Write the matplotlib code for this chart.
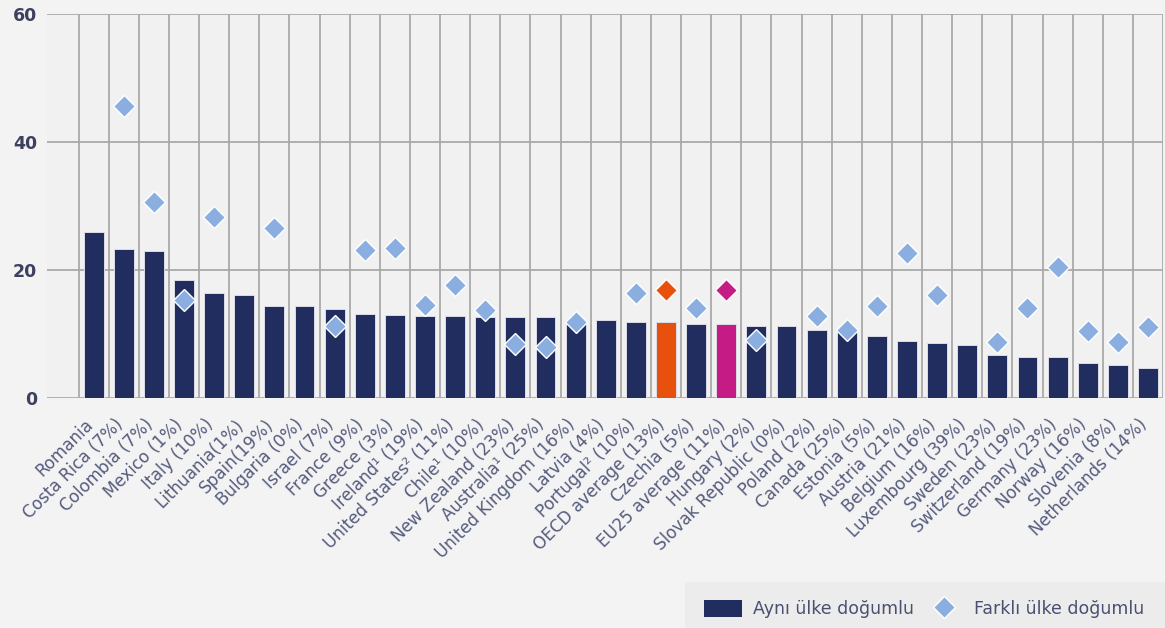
import matplotlib
matplotlib.use("Agg")
import matplotlib.pyplot as plt
import matplotlib.transforms as mtransforms
from matplotlib.patches import Patch, Rectangle
from matplotlib.lines import Line2D

categories = ["Romania", "Costa Rica (7%)", "Colombia (7%)", "Mexico (1%)", "Italy (10%)",
              "Lithuania(1%)", "Spain(19%)", "Bulgaria (0%)", "Israel (7%)", "France (9%)",
              "Greece (3%)", "Ireland¹ (19%)", "United States² (11%)", "Chile¹ (10%)",
              "New Zealand (23%)", "Australia¹ (25%)", "United Kingdom (16%)", "Latvia (4%)",
              "Portugal² (10%)", "OECD average (13%)", "Czechia (5%)", "EU25 average (11%)",
              "Hungary (2%)", "Slovak Republic (0%)", "Poland (2%)", "Canada (25%)",
              "Estonia (5%)", "Austria (21%)", "Belgium (16%)", "Luxembourg (39%)",
              "Sweden (23%)", "Switzerland (19%)", "Germany (23%)", "Norway (16%)",
              "Slovenia (8%)", "Netherlands (14%)"]

same_country = [25.9, 23.3, 23.0, 18.4, 16.45, 16.1, 14.3, 14.3, 13.9, 13.2,
                12.9, 12.85, 12.85, 12.6, 12.6, 12.6, 12.2, 12.25, 11.9, 11.9,
                11.55, 11.55, 11.25, 11.25, 10.6, 10.5, 9.7, 8.95, 8.65, 8.33,
                6.7, 6.4, 6.4, 5.5, 5.1, 4.75]

other_country = [None, 45.6, 30.7, 15.3, 28.3, None, 26.6, None, 11.3, 23.1,
                 23.4, 14.5, 17.7, 13.75, 8.5, 8.0, 11.8, None, 16.4, 16.8,
                 14.0, 16.9, 9.0, None, 12.8, 10.6, 14.4, 22.7, 16.1, None,
                 8.8, 14.0, 20.5, 10.5, 8.8, 11.15]

yticks = [0, 20, 40, 60]
legend_labels = ["Aynı ülke doğumlu", "Farklı ülke doğumlu"]

NAVY = "#222d5f"
ORANGE = "#e8500e"
MAGENTA = "#c51b84"
DIAMOND = "#8aaee0"
LABEL_C = "#565c7e"

plt.rcParams['font.family'] = ['DejaVu Sans']

fig = plt.figure(figsize=(11.65, 6.28), dpi=100, facecolor="#f3f3f3")
ax = fig.add_axes([47/1165, 1-398/628, (1163-47)/1165, (398-14)/628])
ax.set_facecolor("#f1f1f1")

n = len(categories)
x = list(range(n))
bar_colors = []
diamond_colors = []
for c in categories:
    if c.startswith("OECD average"):
        bar_colors.append(ORANGE); diamond_colors.append(ORANGE)
    elif c.startswith("EU25 average"):
        bar_colors.append(MAGENTA); diamond_colors.append(MAGENTA)
    else:
        bar_colors.append(NAVY); diamond_colors.append(DIAMOND)

# grid
for yv in yticks:
    ax.axhline(yv, color="#a9a9a9", lw=1.3, zorder=1)
for b in range(-1, n):
    ax.axvline(b + 0.5, color="#a9a9a9", lw=1.3, zorder=1)

ax.bar(x, same_country, width=0.66, color=bar_colors, edgecolor="#dcdce6",
       linewidth=0.7, zorder=2)

for xi, v, col in zip(x, other_country, diamond_colors):
    if v is None:
        continue
    ax.plot([xi], [v], marker="D", markersize=11.5, color=col,
            markeredgecolor="white", markeredgewidth=1.0, linestyle="none", zorder=3)

ax.set_xlim(-1.55, n - 0.5)
ax.set_ylim(0, 60)
ax.set_yticks(yticks)
ax.set_yticklabels([str(t) for t in yticks], fontsize=12.5, color="#3c4160",
                   fontweight="bold")
ax.set_xticks(x)
ax.set_xticklabels(categories, rotation=45, ha="right", rotation_mode="anchor",
                   fontsize=12.1, color=LABEL_C)
ax.tick_params(axis="both", length=0)
ax.tick_params(axis="x", pad=4)
ax.tick_params(axis="y", pad=7)
for s in ax.spines.values():
    s.set_visible(False)

offset = mtransforms.ScaledTranslation(-10/100, -12/100, fig.dpi_scale_trans)
for lab in ax.get_xticklabels():
    lab.set_transform(lab.get_transform() + offset)

# legend box
fig.patches.append(Rectangle((685/1165, 0), 480/1165, 46/628, transform=fig.transFigure,
                             facecolor="#ececec", edgecolor="none", zorder=0))
handles = [Patch(facecolor=NAVY, edgecolor="none"),
           Line2D([0], [0], marker="D", color="none", markerfacecolor=DIAMOND,
                  markeredgecolor="white", markersize=11)]
leg = fig.legend(handles, legend_labels, loc="center", ncol=2, frameon=False,
                 bbox_to_anchor=(924/1165, 19/628), fontsize=12.5,
                 handlelength=2.2, handleheight=1.2, columnspacing=0.65, handletextpad=0.6,
                 labelcolor="#4a5070")

fig.savefig("out.png", dpi=100, facecolor=fig.get_facecolor())
